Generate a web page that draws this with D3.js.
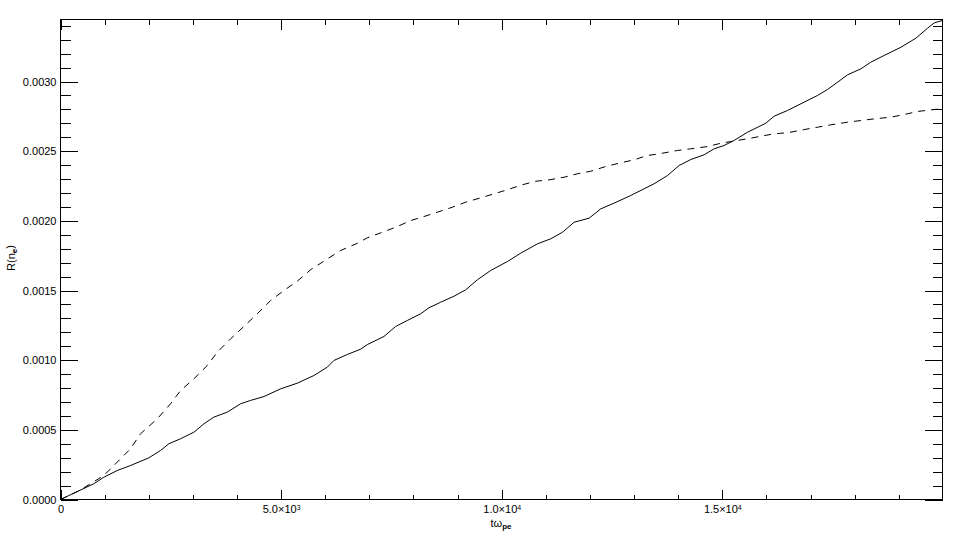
<!DOCTYPE html>
<html>
<head>
<meta charset="utf-8">
<script src="https://cdn.jsdelivr.net/npm/d3@7/dist/d3.min.js"></script>
<style>
  body { margin: 0; background: #fff; }
  text { font-family: "Liberation Sans", Arial, sans-serif; font-size: 11px; fill: #000; }
</style>
</head>
<body>
<div id="chart"></div>
<script>
// solid curve
var tSolid = [0, 755, 982, 1286, 1587, 2002, 2268, 2456, 2721, 3023, 3250, 3476, 3780, 4082, 4308, 4610,
  4989, 5367, 5744, 6048, 6197, 6501, 6803, 6955, 7331, 7596, 7862, 8163, 8351, 8617, 8918, 9184,
  9449, 9751, 10129, 10431, 10810, 11111, 11377, 11640, 11980, 12245, 12547, 12925, 13227, 13454,
  13757, 14020, 14286, 14587, 14814, 15041, 15268, 15571, 15987, 16175, 16478, 16780, 17159, 17385,
  17612, 17839, 18141, 18367, 18669, 19048, 19388, 19653, 19803, 19990];
var rSolid = [0, 0.000113, 0.000160, 0.000208, 0.000244, 0.000299, 0.000352, 0.000400, 0.000436, 0.000483,
  0.000543, 0.000591, 0.000627, 0.000687, 0.000711, 0.000739, 0.000794, 0.000835, 0.000890, 0.000950,
  0.000998, 0.001041, 0.001079, 0.001112, 0.001170, 0.001242, 0.001285, 0.001333, 0.001376, 0.001416,
  0.001459, 0.001505, 0.001577, 0.001644, 0.001708, 0.001768, 0.001835, 0.001871, 0.001918, 0.001990,
  0.002019, 0.002086, 0.002127, 0.002182, 0.002230, 0.002266, 0.002325, 0.002397, 0.002440, 0.002474,
  0.002517, 0.002541, 0.002577, 0.002636, 0.002701, 0.002751, 0.002792, 0.002840, 0.002900, 0.002943,
  0.002995, 0.003048, 0.003091, 0.003139, 0.003187, 0.003246, 0.003311, 0.003383, 0.003421, 0.003438];

// dashed curve
var tDash = [0, 400, 680, 982, 1361, 1587, 1814, 2193, 2494, 2721, 3023, 3327, 3553, 3855, 4157, 4460,
  4762, 5064, 5367, 5669, 6048, 6349, 6728, 6955, 7295, 7596, 7937, 8238, 8542, 8882, 9184, 9524,
  9825, 10129, 10469, 10771, 11073, 11413, 11717, 12018, 12358, 12660, 13000, 13304, 13567, 13984,
  14286, 14665, 14966, 15193, 15571, 16175, 16478, 16855, 17159, 17460, 17839, 18141, 18443, 18821,
  19124, 19426, 19803, 19990];
var rDash = [0, 0.000060, 0.000113, 0.000172, 0.000292, 0.000364, 0.000472, 0.000579, 0.000687, 0.000782,
  0.000866, 0.000962, 0.001057, 0.001153, 0.001242, 0.001333, 0.001428, 0.001500, 0.001567, 0.001649,
  0.001727, 0.001787, 0.001839, 0.001878, 0.001918, 0.001954, 0.002002, 0.002031, 0.002062, 0.002098,
  0.002134, 0.002165, 0.002194, 0.002223, 0.002259, 0.002284, 0.002294, 0.002313, 0.002338, 0.002356,
  0.002390, 0.002414, 0.002438, 0.002469, 0.002481, 0.002505, 0.002517, 0.002533, 0.002557, 0.002569,
  0.002589, 0.002625, 0.002632, 0.002655, 0.002672, 0.002689, 0.002708, 0.002720, 0.002732, 0.002744,
  0.002763, 0.002785, 0.002799, 0.002804];

// axis ticks
var xMajor = [0, 5000, 10000, 15000];
var xLabels = ["0", "5.0×10|3", "1.0×10|4", "1.5×10|4"];
var xMinor = [1000, 2000, 3000, 4000, 6000, 7000, 8000, 9000, 11000, 12000, 13000, 14000, 16000, 17000, 18000, 19000];
var yMajor = [0, 0.0005, 0.0010, 0.0015, 0.0020, 0.0025, 0.0030];
var yMinor = [0.0001, 0.0002, 0.0003, 0.0004, 0.0006, 0.0007, 0.0008, 0.0009, 0.0011, 0.0012, 0.0013, 0.0014,
  0.0016, 0.0017, 0.0018, 0.0019, 0.0021, 0.0022, 0.0023, 0.0024, 0.0026, 0.0027, 0.0028, 0.0029,
  0.0031, 0.0032, 0.0033, 0.0034];

var W = 960, H = 540;
var margin = {left: 60.5, top: 19.5, right: 17.5, bottom: 40.5};
var width = W - margin.left - margin.right;
var height = H - margin.top - margin.bottom;

var svg = d3.select("#chart").append("svg")
    .attr("width", W)
    .attr("height", H);

var chart = svg.append("g")
    .attr("transform", "translate(" + margin.left + "," + margin.top + ")");

var x = d3.scaleLinear().domain([0, 19990]).range([0, width]);
var y = d3.scaleLinear().domain([0, 0.003445]).range([height, 0]);

// ticks point inwards, IDL style
var xMajLen = 10, xMinLen = 5, yMajLen = 17.6, yMinLen = 10;

function noLabel() { return ""; }

// bottom
chart.append("g").attr("class", "axis")
    .attr("transform", "translate(0," + height + ")")
    .call(d3.axisBottom(x).tickValues(xMajor).tickSize(-xMajLen).tickSizeOuter(0).tickPadding(6)
      .tickFormat(function(d, i) { return xLabels[i]; }));
chart.append("g").attr("class", "axis")
    .attr("transform", "translate(0," + height + ")")
    .call(d3.axisBottom(x).tickValues(xMinor).tickSize(-xMinLen).tickSizeOuter(0).tickFormat(noLabel));
// top
chart.append("g").attr("class", "axis")
    .call(d3.axisTop(x).tickValues(xMajor).tickSize(-xMajLen).tickSizeOuter(0).tickFormat(noLabel));
chart.append("g").attr("class", "axis")
    .call(d3.axisTop(x).tickValues(xMinor).tickSize(-xMinLen).tickSizeOuter(0).tickFormat(noLabel));
// left
chart.append("g").attr("class", "axis")
    .call(d3.axisLeft(y).tickValues(yMajor).tickSize(-yMajLen).tickSizeOuter(0).tickPadding(4)
      .tickFormat(d3.format(".4f")));
chart.append("g").attr("class", "axis")
    .call(d3.axisLeft(y).tickValues(yMinor).tickSize(-yMinLen).tickSizeOuter(0).tickFormat(noLabel));
// right
chart.append("g").attr("class", "axis")
    .attr("transform", "translate(" + width + ",0)")
    .call(d3.axisRight(y).tickValues(yMajor).tickSize(-yMajLen).tickSizeOuter(0).tickFormat(noLabel));
chart.append("g").attr("class", "axis")
    .attr("transform", "translate(" + width + ",0)")
    .call(d3.axisRight(y).tickValues(yMinor).tickSize(-yMinLen).tickSizeOuter(0).tickFormat(noLabel));

chart.selectAll(".axis path.domain").remove();
chart.selectAll(".axis line").attr("stroke", "#000").attr("shape-rendering", "crispEdges");
chart.selectAll(".axis text").attr("font-family", null).attr("font-size", null);

// superscripts in the x labels
chart.selectAll(".axis text").each(function() {
    var t = d3.select(this), s = t.text();
    if (s.indexOf("|") < 0) return;
    var parts = s.split("|");
    t.text(parts[0]);
    t.append("tspan").attr("dy", "-0.45em").style("font-size", "7px").text(parts[1]);
});

// frame
chart.append("rect")
    .attr("width", width).attr("height", height)
    .attr("fill", "none").attr("stroke", "#000")
    .attr("shape-rendering", "crispEdges");

var line = d3.line()
    .x(function(d) { return x(d[0]); })
    .y(function(d) { return y(d[1]); });

chart.append("path")
    .datum(d3.zip(tSolid, rSolid))
    .attr("d", line)
    .attr("fill", "none").attr("stroke", "#000").attr("stroke-width", 1);

chart.append("path")
    .datum(d3.zip(tDash, rDash))
    .attr("d", line)
    .attr("fill", "none").attr("stroke", "#000").attr("stroke-width", 1)
    .attr("stroke-dasharray", "7,6");

// axis titles
var xt = svg.append("text")
    .attr("x", 501).attr("y", 527)
    .attr("text-anchor", "middle")
    .text("tω");
xt.append("tspan").attr("dy", "0.3em").style("font-size", "8px").style("font-weight", "bold").text("pe");

var yt = svg.append("text")
    .attr("transform", "translate(15,258) rotate(-90)")
    .attr("text-anchor", "middle")
    .text("R(n");
yt.append("tspan").attr("dy", "0.3em").style("font-size", "8px").style("font-weight", "bold").text("e");
yt.append("tspan").attr("dy", "-0.3em").text(")");
</script>
</body>
</html>
